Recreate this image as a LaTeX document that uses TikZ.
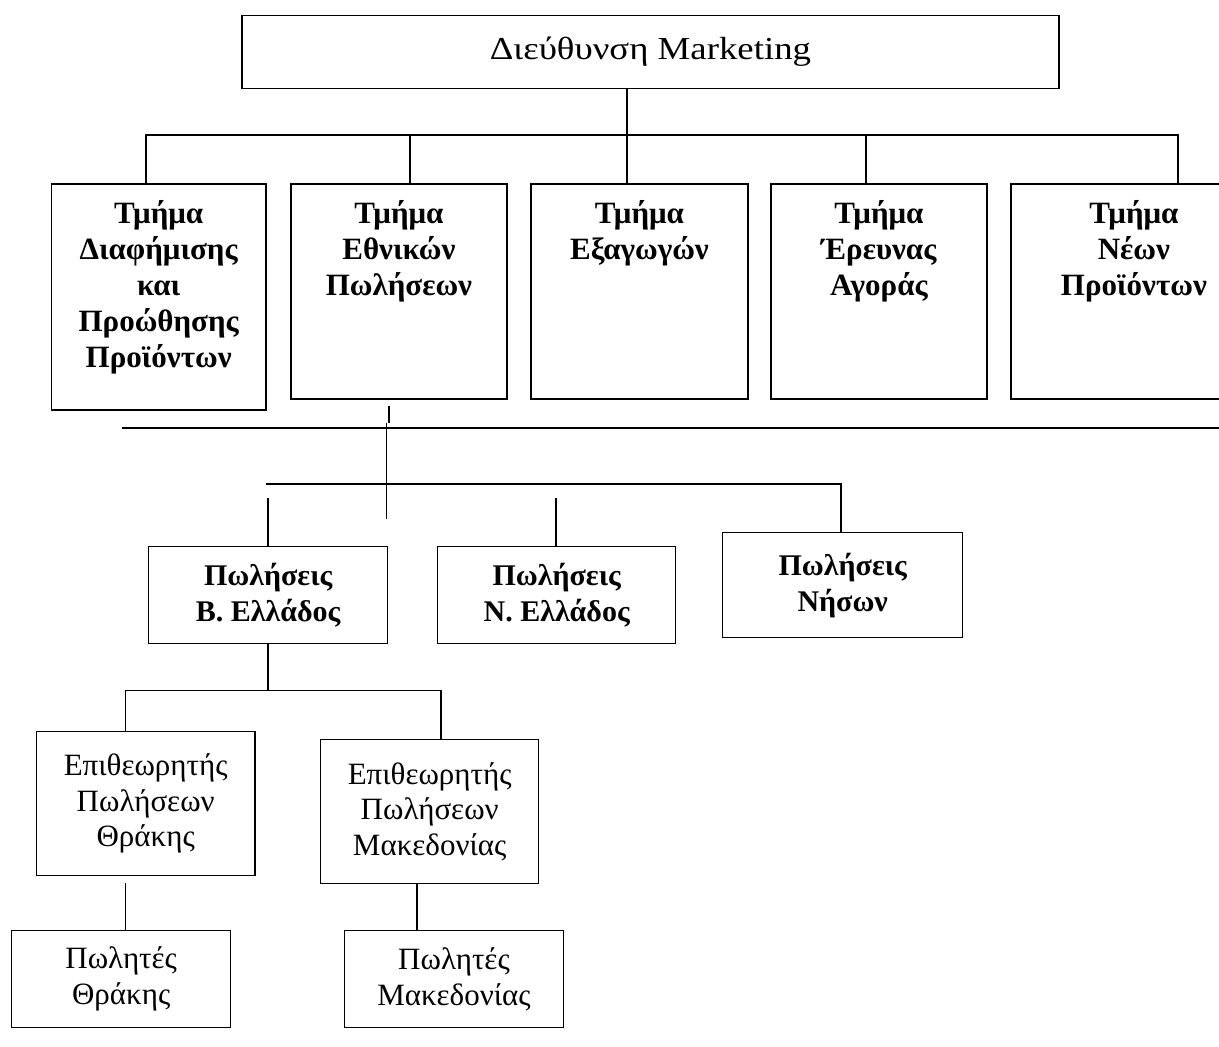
\documentclass[tikz,border=0pt]{standalone}
\usepackage{fontspec}
\setmainfont{Liberation Serif}
\newfontfamily\headfont[FakeStretch=1.15]{Liberation Serif}
\begin{document}
\begin{tikzpicture}[x=1pt,y=-1pt,
  rbox/.style={draw,line width=1.8pt,inner sep=0pt,anchor=north west},
  lbox/.style={draw,line width=1.4pt,inner sep=0pt,anchor=north west},
  btxt/.style={font=\bfseries\fontsize{31}{36}\selectfont,align=center,inner sep=0pt},
  ltxt/.style={font=\bfseries\fontsize{30}{36}\selectfont,align=center,inner sep=0pt},
  rtxt/.style={font=\fontsize{31}{35.5}\selectfont,align=center},
  bus/.style={line width=1.6pt},
  wire/.style={line width=1.1pt}]
\clip (0,0) rectangle (1219,1047);
\fill[white] (0,0) rectangle (1219,1047);

% head of the department
\node[rbox,minimum width=817pt,minimum height=73pt,font=\headfont\fontsize{32}{38}\selectfont] (T) at (241,14.5) {Διεύθυνση Marketing};

% five sections
\node[rbox,minimum width=214.5pt,minimum height=226pt] (d1) at (50.5,183) {};
\node[rbox,minimum width=216pt,minimum height=215pt] (d2) at (290,183) {};
\node[rbox,minimum width=217pt,minimum height=215pt] (d3) at (530,183) {};
\node[rbox,minimum width=216pt,minimum height=215pt] (d4) at (770,183) {};
\node[rbox,minimum width=246pt,minimum height=215pt] (d5) at (1010,183) {};
\node[btxt,anchor=north] (d1t) at ([yshift=-17pt]d1.north) {Τμήμα\\Διαφήμισης\\και\\Προώθησης\\Προϊόντων};
\node[btxt,anchor=north] (d2t) at ([yshift=-17pt]d2.north) {Τμήμα\\Εθνικών\\Πωλήσεων};
\node[btxt,anchor=north] (d3t) at ([yshift=-17pt]d3.north) {Τμήμα\\Εξαγωγών};
\node[btxt,anchor=north] (d4t) at ([yshift=-17pt]d4.north) {Τμήμα\\Έρευνας\\Αγοράς};
\node[btxt,anchor=north] (d5t) at ([yshift=-17pt]d5.north) {Τμήμα\\Νέων\\Προϊόντων};

% top bus
\coordinate (hb) at (627,135);
\draw[bus] (T.south -| hb) -- (hb);
\draw[bus] (d1.north -| 146,0) |- (hb) -| (d5.north -| 1178,0);
\draw[bus] (hb |- 0,135) -- (d3.north -| hb);
\draw[bus] (410,135) -- (d2.north -| 410,0);
\draw[bus] (866,135) -- (d4.north -| 866,0);

% separator and stray tick
\coordinate (tk1) at (389,405.5);
\coordinate (tk2) at (389,423);
\draw[wire] (tk1) -- (tk2);
\coordinate (sepL) at (122,427.7);
\coordinate (sepR) at (1219,427.7);
\draw[line width=2.2pt] (sepL) -- (sepR);
\coordinate (vt) at (386.5,422.7);
\coordinate (vb) at (386.5,519);
\draw[wire,line width=1.4pt] (vt) -- (vb);

% regional sales
\node[lbox,minimum width=239pt,minimum height=97.3pt,ltxt] (s1) at (148,545.7) {Πωλήσεις\\Β. Ελλάδος};
\node[lbox,minimum width=238pt,minimum height=97.3pt,ltxt] (s2) at (437,545.7) {Πωλήσεις\\Ν. Ελλάδος};
\node[lbox,minimum width=240pt,minimum height=104.7pt,ltxt] (s3) at (722,532) {Πωλήσεις\\Νήσων};
\coordinate (b2L) at (266,484);
\coordinate (b2R) at (841,484);
\draw[bus] (b2L) -- (b2R) -- (s3.north -| b2R);
\draw[wire] (s1.north -| 268,0) -- ++(0,-48);
\draw[wire] (s2.north -| 556,0) -- ++(0,-48);

% inspectors
\node[lbox,minimum width=218.8pt,minimum height=144.3pt,rtxt] (i1) at (35.6,730.7) {Επιθεωρητής\\Πωλήσεων\\Θράκης};
\node[lbox,minimum width=218pt,minimum height=144pt,rtxt] (i2) at (320,738.7) {Επιθεωρητής\\Πωλήσεων\\Μακεδονίας};
\coordinate (b3) at (268,690.7);
\draw[wire] (s1.south -| b3) -- (b3);
\draw[wire] (i1.north -| 125.6,0) |- (b3) -| (i2.north -| 441,0);

% salesmen
\node[lbox,minimum width=219pt,minimum height=96.7pt,rtxt] (p1) at (11,930) {Πωλητές\\Θράκης};
\node[lbox,minimum width=219.4pt,minimum height=96.7pt,rtxt] (p2) at (343.6,930) {Πωλητές\\Μακεδονίας};
\draw[wire] ([yshift=-7pt]i1.south -| 125.6,0) -- (p1.north -| 125.6,0);
\draw[wire] (i2.south -| 417,0) -- (p2.north -| 417,0);
\end{tikzpicture}
\end{document}
